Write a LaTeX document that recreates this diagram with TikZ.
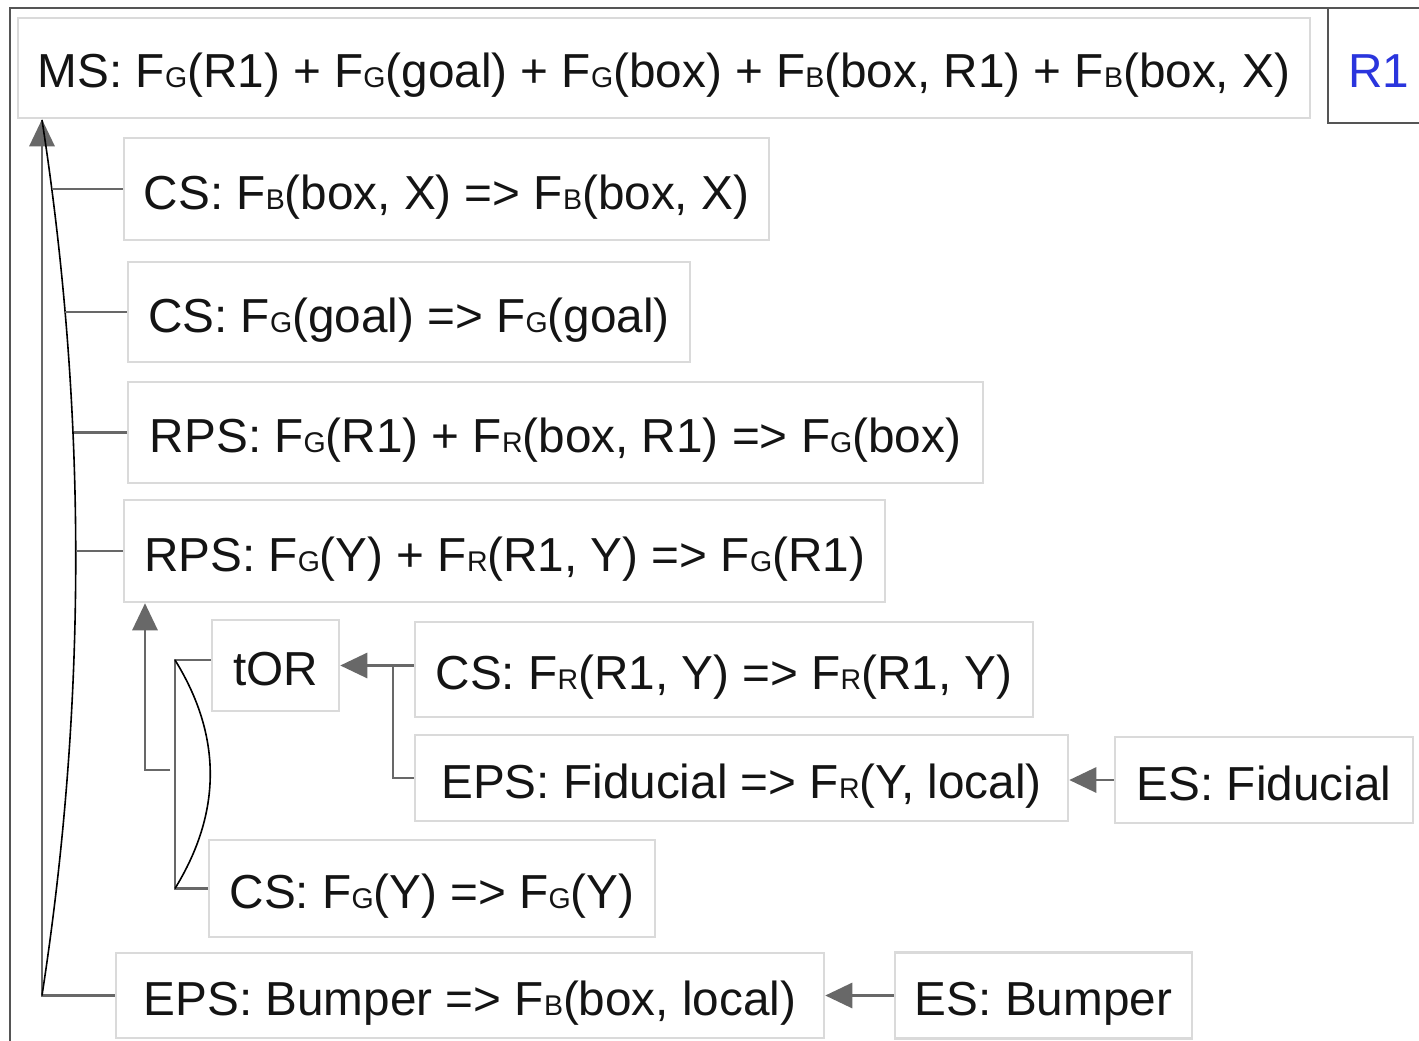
\documentclass[tikz,border=0pt]{standalone}
\usepackage{fontspec}
\setmainfont{Liberation Sans}
\usetikzlibrary{arrows.meta}
\definecolor{boxgray}{HTML}{DADADA}
\definecolor{conngray}{HTML}{686868}
\definecolor{framegray}{HTML}{555555}
\definecolor{txt}{HTML}{141414}
\definecolor{rblue}{HTML}{2A35DD}
\newcommand\smallsub[1]{{\fontsize{28.5}{29}\selectfont #1}}
\tikzset{
  box/.style={draw=boxgray, line width=2.5pt, fill=white, inner sep=0pt, text=txt,
    font=\fontsize{47.7}{56}\selectfont, text height=40pt, text depth=0pt},
  conn/.style={draw=conngray, line width=2.8pt},
  tip/.style={-{Triangle[length=27pt,width=25pt]}, color=conngray},
  arcline/.style={draw=black, line width=1.6pt},
}
\begin{document}
\begin{tikzpicture}[x=1pt,y=-1pt]
\useasboundingbox[fill=white] (0,0) rectangle (1419,1041);
% frame
\draw[draw=framegray, line width=2.5pt] (10,1045) -- (10,8) -- (1425,8);
\draw[draw=framegray, line width=2.5pt] (1328,8) -- (1328,123) -- (1425,123);
\node[text=rblue, font=\fontsize{47.7}{56}\selectfont, inner sep=0pt, text height=40pt, text depth=0pt] (r1) at (1379,68) {R1};

% boxes
\node[box, minimum width=1292, minimum height=100] (ms) at (664,68)
  {MS: F\smallsub{G}(R1) + F\smallsub{G}(goal) + F\smallsub{G}(box) + F\smallsub{B}(box, R1) + F\smallsub{B}(box, X)};
\node[box, minimum width=645, minimum height=102] (csb) at (446.5,189)
  {CS: F\smallsub{B}(box, X) => F\smallsub{B}(box, X)};
\node[box, minimum width=562, minimum height=100] (csg) at (409,312)
  {CS: F\smallsub{G}(goal) => F\smallsub{G}(goal)};
\node[box, minimum width=855, minimum height=101] (rpsa) at (555.5,432.5)
  {RPS: F\smallsub{G}(R1) + F\smallsub{R}(box, R1) => F\smallsub{G}(box)};
\node[box, minimum width=761, minimum height=102] (rpsb) at (504.5,551)
  {RPS: F\smallsub{G}(Y) + F\smallsub{R}(R1, Y) => F\smallsub{G}(R1)};
\node[box, minimum width=127, minimum height=91] (tor) at (275.5,665.5) {tOR};
\node[box, minimum width=618, minimum height=95] (csr) at (724,669.5)
  {CS: F\smallsub{R}(R1, Y) => F\smallsub{R}(R1, Y)};
\node[box, minimum width=653, minimum height=86] (epsf) at (741.5,778)
  {EPS: Fiducial => F\smallsub{R}(Y, local)};
\node[box, minimum width=298, minimum height=86] (esf) at (1264,780)
  {ES: Fiducial};
\node[box, minimum width=446, minimum height=97] (csy) at (432,888.5)
  {CS: F\smallsub{G}(Y) => F\smallsub{G}(Y)};
\node[box, minimum width=708, minimum height=85] (epsb) at (470,995.5)
  {EPS: Bumper => F\smallsub{B}(box, local)};
\node[box, minimum width=297, minimum height=86] (esb) at (1043.5,995.5)
  {ES: Bumper};

% main spine
\coordinate (sp) at (42,995.5);
\draw[conn, tip] (epsb.west) -- (sp) -- (sp |- ms.south);
\draw[arcline] (42,120) .. controls (87,412) and (87,703) .. (42,995.5);
\coordinate (a1) at (52,0);
\coordinate (a2) at (65,0);
\coordinate (a3) at (74,0);
\coordinate (a4) at (76,0);
\draw[conn] (csb.west) -- (csb.west -| a1);
\draw[conn] (csg.west) -- (csg.west -| a2);
\draw[conn] (rpsa.west) -- (rpsa.west -| a3);
\draw[conn] (rpsb.west) -- (rpsb.west -| a4);

% second group
\coordinate (g1) at (170,770);
\coordinate (g2) at (145,770);
\draw[conn, tip] (g1) -- (g2) -- (g2 |- rpsb.south);
\coordinate (bt) at (175,660);
\coordinate (bb) at (175,888.5);
\draw[conn] (tor.west |- bt) -- (bt) -- (bb) -- (csy.west);
\draw[arcline] (bt) .. controls (222,736) and (222,812) .. (bb);

% tOR inputs
\draw[conn, tip] (csr.west |- tor.east) -- (tor.east);
\coordinate (j1) at (393,665.5);
\draw[conn] (j1) |- (epsf.west);

% ES arrows
\draw[conn, tip] (esf.west) -- (esf.west -| epsf.east);
\draw[conn, tip] (esb.west) -- (epsb.east);
\end{tikzpicture}
\end{document}
